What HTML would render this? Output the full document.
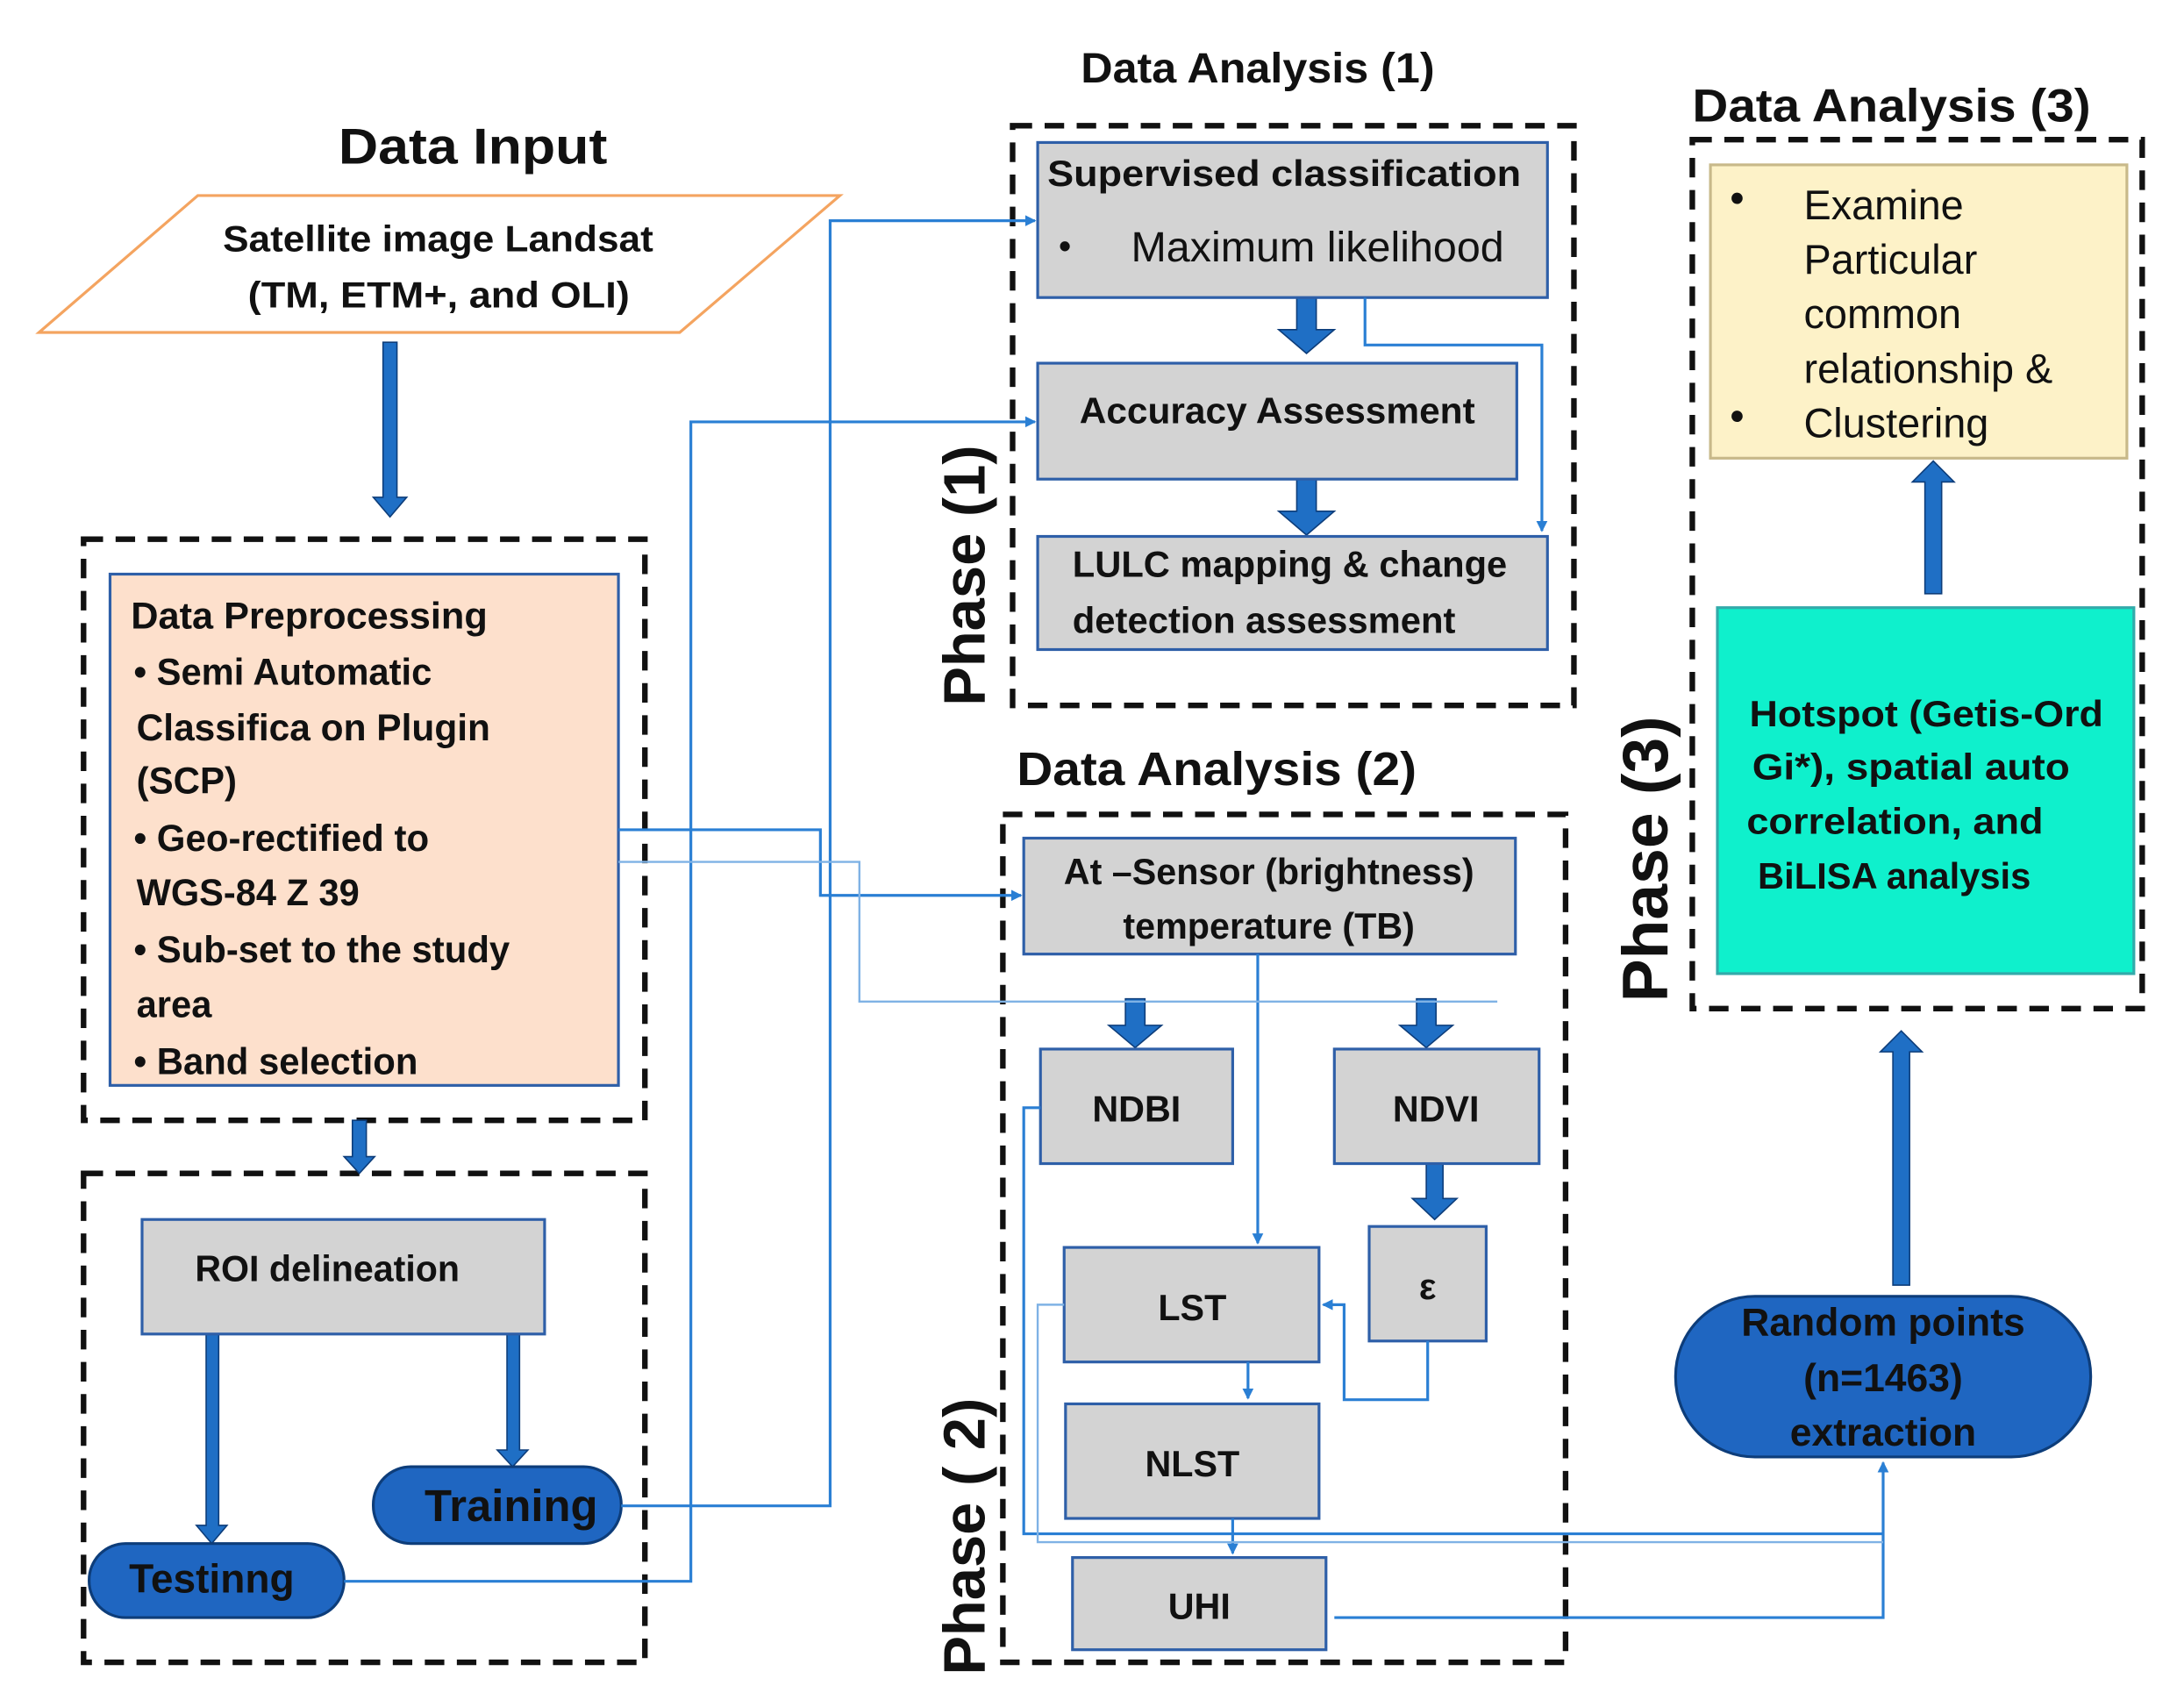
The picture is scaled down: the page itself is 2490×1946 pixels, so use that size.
<!DOCTYPE html>
<html><head><meta charset="utf-8"><style>
html,body{margin:0;padding:0;background:#fff;}
svg{display:block;}
text{font-family:"Liberation Sans",sans-serif;fill:#111;}
.b{font-weight:bold;}
</style></head><body>
<svg width="2490" height="1946" viewBox="0 0 1568 1222" preserveAspectRatio="none" xmlns="http://www.w3.org/2000/svg">
<defs>
<marker id="ah" markerWidth="8" markerHeight="8" refX="7" refY="4" orient="auto" markerUnits="userSpaceOnUse"><path d="M0,0 L8,4 L0,8 z" fill="#2a7fd4"/></marker>
</defs>
<g fill="none" stroke="#111" stroke-width="4" stroke-dasharray="14,9">
<rect x="60" y="386" width="403" height="416"/>
<rect x="60" y="840" width="403" height="350"/>
<rect x="727" y="90" width="403" height="415"/>
<rect x="720" y="583" width="404" height="607"/>
<rect x="1215" y="100" width="323" height="622"/>
</g>
<text x="243" y="117" class="b" font-size="36" textLength="193" lengthAdjust="spacingAndGlyphs">Data Input</text>
<text x="776" y="59" class="b" font-size="30" textLength="254" lengthAdjust="spacingAndGlyphs">Data Analysis (1)</text>
<text x="730" y="562" class="b" font-size="34" textLength="287" lengthAdjust="spacingAndGlyphs">Data Analysis (2)</text>
<text x="1215" y="87" class="b" font-size="33" textLength="286" lengthAdjust="spacingAndGlyphs">Data Analysis (3)</text>

<polygon points="28,238 142,140 603,140 488,238" fill="#fff" stroke="#f4a460" stroke-width="2"/>
<text x="160" y="180" class="b" font-size="26" textLength="309" lengthAdjust="spacingAndGlyphs">Satellite image Landsat</text>
<text x="178" y="220" class="b" font-size="26" textLength="274" lengthAdjust="spacingAndGlyphs">(TM, ETM+, and OLI)</text>

<g fill="#1f6fc5" stroke="#0d3d7a" stroke-width="1">
<polygon points="275,245 285,245 285,356 292,356 280,370 268,356 275,356"/>
<polygon points="253,802 263,802 263,828 269,828 258,840 247,828 253,828"/>
<polygon points="148,955 157,955 157,1092 163,1092 152,1105 141,1092 148,1092"/>
<polygon points="364,955 373,955 373,1038 379,1038 368,1050 357,1038 364,1038"/>
<polygon points="931,213 945,213 945,236 958,236 938,253 918,236 931,236"/>
<polygon points="931,343 945,343 945,366 958,366 938,383 918,366 931,366"/>
<polygon points="808,715 822,715 822,734 834,734 815,750 796,734 808,734"/>
<polygon points="1017,715 1031,715 1031,734 1043,734 1024,750 1005,734 1017,734"/>
<polygon points="1024,833 1036,833 1036,858 1046,858 1030,873 1014,858 1024,858"/>
<polygon points="1382,425 1394,425 1394,345 1403,345 1388,330 1373,345 1382,345"/>
<polygon points="1359,920 1371,920 1371,753 1380,753 1365,738 1350,753 1359,753"/>
</g>

<rect x="79" y="411" width="365" height="366" fill="#fde0cc" stroke="#2e5fa8" stroke-width="2"/>
<g class="b" font-size="27">
<text x="94" y="450" class="b" textLength="256" lengthAdjust="spacingAndGlyphs">Data Preprocessing</text>
<text x="96" y="490" class="b" textLength="214" lengthAdjust="spacingAndGlyphs">• Semi Automatic</text>
<text x="98" y="530" class="b" textLength="254" lengthAdjust="spacingAndGlyphs">Classifica  on Plugin</text>
<text x="98" y="568" class="b" textLength="72" lengthAdjust="spacingAndGlyphs">(SCP)</text>
<text x="96" y="609" class="b" textLength="212" lengthAdjust="spacingAndGlyphs">• Geo-rectified to</text>
<text x="98" y="648" class="b" textLength="160" lengthAdjust="spacingAndGlyphs">WGS-84 Z 39</text>
<text x="96" y="689" class="b" textLength="270" lengthAdjust="spacingAndGlyphs">• Sub-set to the study</text>
<text x="98" y="728" class="b" textLength="54" lengthAdjust="spacingAndGlyphs">area</text>
<text x="96" y="769" class="b" textLength="204" lengthAdjust="spacingAndGlyphs">• Band selection</text>
</g>

<g fill="#d3d3d3" stroke="#2e5fa8" stroke-width="2">
<rect x="102" y="873" width="289" height="82"/>
<rect x="745" y="102" width="366" height="111"/>
<rect x="745" y="260" width="344" height="83"/>
<rect x="745" y="384" width="366" height="81"/>
<rect x="735" y="600" width="353" height="83"/>
<rect x="747" y="751" width="138" height="82"/>
<rect x="958" y="751" width="147" height="82"/>
<rect x="983" y="878" width="84" height="82"/>
<rect x="764" y="893" width="183" height="82"/>
<rect x="765" y="1005" width="182" height="82"/>
<rect x="770" y="1115" width="182" height="66"/>
</g>
<g font-size="26" class="b">
<text x="140" y="917" class="b" textLength="190" lengthAdjust="spacingAndGlyphs">ROI delineation</text>
<text x="752" y="133" class="b" textLength="340" lengthAdjust="spacingAndGlyphs">Supervised classification</text>
<text x="775" y="303" class="b" textLength="284" lengthAdjust="spacingAndGlyphs">Accuracy Assessment</text>
<text x="770" y="413" class="b" textLength="312" lengthAdjust="spacingAndGlyphs">LULC mapping &amp; change</text>
<text x="770" y="453" class="b" textLength="275" lengthAdjust="spacingAndGlyphs">detection assessment</text>
<text x="911" y="633" class="b" text-anchor="middle">At –Sensor (brightness)</text>
<text x="911" y="672" class="b" text-anchor="middle">temperature (TB)</text>
<text x="816" y="803" class="b" text-anchor="middle">NDBI</text>
<text x="1031" y="803" class="b" text-anchor="middle">NDVI</text>
<text x="1025" y="930" class="b" text-anchor="middle">ε</text>
<text x="856" y="945" class="b" text-anchor="middle">LST</text>
<text x="856" y="1057" class="b" text-anchor="middle">NLST</text>
<text x="861" y="1159" class="b" text-anchor="middle">UHI</text>
</g>
<text x="760" y="185" font-size="26">•</text>
<text x="812" y="187" font-size="30.5">Maximum likelihood</text>

<rect x="268" y="1050" width="178" height="55" rx="27" fill="#1f66c1" stroke="#0d3d7a" stroke-width="2"/>
<text x="367" y="1089" class="b" font-size="32" text-anchor="middle">Training</text>
<rect x="64" y="1105" width="183" height="53" rx="26" fill="#1f66c1" stroke="#0d3d7a" stroke-width="2"/>
<text x="152" y="1140" class="b" font-size="29" text-anchor="middle">Testinng</text>

<rect x="1228" y="118" width="299" height="210" fill="#fdf2c8" stroke="#c8b98a" stroke-width="2"/>
<g font-size="29.5">
<text x="1242" y="152">•</text><text x="1242" y="308">•</text>
<text x="1295" y="157">Examine</text>
<text x="1295" y="196">Particular</text>
<text x="1295" y="235">common</text>
<text x="1295" y="274">relationship &amp;</text>
<text x="1295" y="313">Clustering</text>
</g>
<rect x="1233" y="435" width="299" height="262" fill="#0ff0cc" stroke="#3aa" stroke-width="2"/>
<g font-size="26" class="b">
<text x="1256" y="520" class="b" textLength="254" lengthAdjust="spacingAndGlyphs">Hotspot (Getis-Ord</text>
<text x="1258" y="558" class="b" textLength="228" lengthAdjust="spacingAndGlyphs">Gi*), spatial auto</text>
<text x="1254" y="597" class="b" textLength="213" lengthAdjust="spacingAndGlyphs">correlation, and</text>
<text x="1262" y="636" class="b" textLength="196" lengthAdjust="spacingAndGlyphs">BiLISA analysis</text>
</g>
<rect x="1203" y="928" width="298" height="115" rx="57" fill="#1f66c1" stroke="#0d3d7a" stroke-width="2"/>
<g font-size="28" class="b" text-anchor="middle">
<text x="1352" y="956" class="b">Random points</text>
<text x="1352" y="996" class="b">(n=1463)</text>
<text x="1352" y="1035" class="b">extraction</text>
</g>

<g fill="none" stroke="#2a7fd4" stroke-width="2">
<polyline points="446,1078 596,1078 596,158 743,158" marker-end="url(#ah)"/>
<polyline points="247,1132 496,1132 496,302 743,302" marker-end="url(#ah)"/>
<polyline points="444,594 589,594 589,641 733,641" marker-end="url(#ah)"/>
<polyline points="980,213 980,247 1107,247 1107,380" marker-end="url(#ah)"/>
<polyline points="903,683 903,890" marker-end="url(#ah)"/>
<polyline points="1025,960 1025,1002 965,1002 965,934 950,934" marker-end="url(#ah)"/>
<polyline points="896,975 896,1001" marker-end="url(#ah)"/>
<polyline points="885,1087 885,1112" marker-end="url(#ah)"/>
<polyline points="747,793 735,793 735,1098 1352,1098"/>
<polyline points="958,1158 1352,1158 1352,1047" marker-end="url(#ah)"/>
</g>
<g fill="none" stroke="#7fb2e5" stroke-width="1.5">
<polyline points="444,617 617,617 617,717 1075,717"/>
<polyline points="764,934 745,934 745,1104 1352,1104"/>
</g>

<text transform="translate(707,412) rotate(-90)" class="b" font-size="42" text-anchor="middle">Phase (1)</text>
<text transform="translate(707,1100) rotate(-90)" class="b" font-size="42" text-anchor="middle">Phase ( 2)</text>
<text transform="translate(1197,615) rotate(-90)" class="b" font-size="46" text-anchor="middle">Phase (3)</text>
</svg>
</body></html>
